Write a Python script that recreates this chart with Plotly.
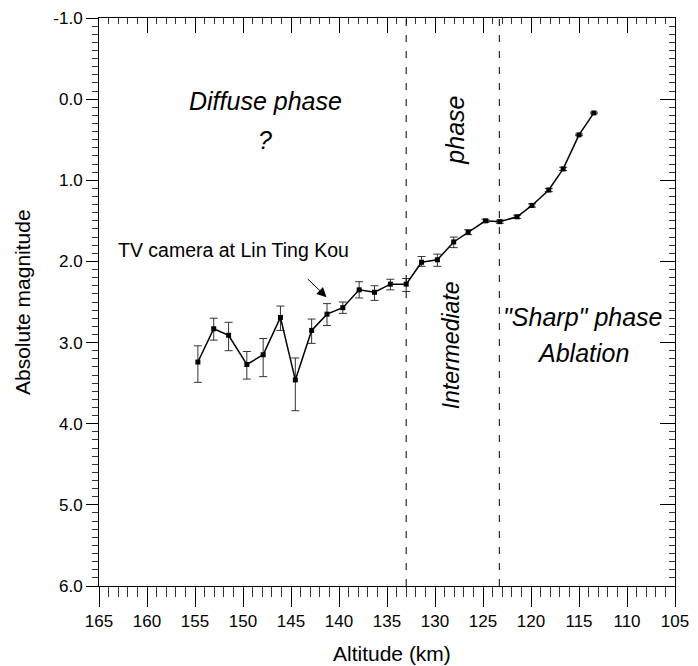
import plotly.graph_objects as go

altitude_km = [154.7, 153.05, 151.5, 149.6, 147.9, 146.1, 144.55, 142.85, 141.25, 139.6,
               137.9, 136.3, 134.65, 133.0, 131.4, 129.75, 128.05, 126.55, 124.75, 123.25,
               121.45, 119.9, 118.15, 116.65, 115.0, 113.45]
abs_magnitude = [3.24, 2.83, 2.91, 3.27, 3.15, 2.69, 3.46, 2.85, 2.65, 2.57,
                 2.35, 2.38, 2.28, 2.28, 2.01, 1.98, 1.76, 1.64, 1.50, 1.51,
                 1.45, 1.31, 1.12, 0.86, 0.44, 0.17]
err_plus = [0.25, 0.14, 0.19, 0.18, 0.27, 0.16, 0.38, 0.16, 0.14, 0.07,
            0.10, 0.10, 0.07, 0.09, 0.05, 0.08, 0.07, 0.03, 0.02, 0.02,
            0.02, 0.02, 0.02, 0.02, 0.01, 0.01]
err_minus = [0.20, 0.13, 0.16, 0.16, 0.20, 0.14, 0.27, 0.14, 0.13, 0.07,
             0.10, 0.08, 0.06, 0.07, 0.07, 0.07, 0.06, 0.03, 0.02, 0.02,
             0.02, 0.02, 0.02, 0.02, 0.01, 0.01]
phase_boundaries_km = [133.0, 123.3]
x_ticks = [165, 160, 155, 150, 145, 140, 135, 130, 125, 120, 115, 110, 105]
y_ticks = [-1.0, 0.0, 1.0, 2.0, 3.0, 4.0, 5.0, 6.0]
y_tick_labels = ["-1.0", "0.0", "1.0", "2.0", "3.0", "4.0", "5.0", "6.0"]
x_title = "Altitude (km)"
y_title = "Absolute magnitude"

FONT = "Liberation Sans, Arial, sans-serif"

fig = go.Figure()
fig.add_trace(go.Scatter(
    x=altitude_km, y=abs_magnitude, mode="lines+markers",
    line=dict(color="black", width=1.5),
    marker=dict(symbol="square", size=5, color="black"),
    error_y=dict(type="data", symmetric=False, array=err_plus, arrayminus=err_minus,
                 color="#333", thickness=1, width=4),
    showlegend=False, hoverinfo="skip", cliponaxis=False))
# invisible trace on mirror axes
fig.add_trace(go.Scatter(x=[165], y=[6], xaxis="x2", yaxis="y2", mode="markers",
                         marker=dict(opacity=0), showlegend=False, hoverinfo="skip"))

for xb in phase_boundaries_km:
    fig.add_shape(type="line", xref="x", yref="paper", x0=xb, x1=xb, y0=0, y1=1,
                  line=dict(color="black", width=1, dash="7px,9px"))

common_x = dict(range=[165, 105], tickvals=x_ticks, showline=True, linecolor="black",
                linewidth=1, showgrid=False, zeroline=False, automargin=False)
common_y = dict(range=[6, -1], tickvals=y_ticks, showline=True, linecolor="black",
                linewidth=1, showgrid=False, zeroline=False, automargin=False)

fig.update_layout(
    width=682, height=658, plot_bgcolor="white", paper_bgcolor="white",
    margin=dict(l=91, r=15, t=10, b=80, autoexpand=False),
    font=dict(family=FONT, color="black"),
    xaxis=dict(**common_x, ticks="outside", ticklen=20, tickwidth=1, tickcolor="black",
               ticktext=[str(v) for v in x_ticks],
               minor=dict(dtick=1, ticks="outside", ticklen=10, tickwidth=1, tickcolor="#333"),
               tickfont=dict(size=17, family=FONT)),
    xaxis2=dict(**common_x, overlaying="x", side="top", ticks="inside", ticklen=15,
                tickwidth=1, tickcolor="black", showticklabels=False,
                minor=dict(dtick=1, ticks="inside", ticklen=6, tickwidth=1, tickcolor="#333")),
    yaxis=dict(**common_y, ticks="outside", ticklen=12, tickwidth=1, tickcolor="black",
               ticktext=y_tick_labels,
               minor=dict(dtick=0.1, ticks="outside", ticklen=6, tickwidth=1, tickcolor="#333"),
               tickfont=dict(size=17, family=FONT)),
    yaxis2=dict(**common_y, overlaying="y", side="right", ticks="inside", ticklen=15,
                tickwidth=1, tickcolor="black", showticklabels=False,
                minor=dict(dtick=0.1, ticks="inside", ticklen=6, tickwidth=1, tickcolor="#333")),
)

# axis titles
fig.add_annotation(xref="paper", yref="paper", x=0.509, y=0, yshift=-67, yanchor="middle",
                   text=x_title, showarrow=False, font=dict(size=21, family=FONT, color="black"))
fig.add_annotation(xref="paper", yref="paper", x=0, y=0.5, xshift=-77, xanchor="center",
                   text=y_title, textangle=-90, showarrow=False,
                   font=dict(size=21, family=FONT, color="black"))

ital = dict(family=FONT, size=25, color="black")
annots = [
    dict(x=147.7, y=0.02, text="<i>Diffuse phase</i>", font=ital),
    dict(x=147.7, y=0.5, text="<i>?</i>", font=ital),
    dict(x=127.95, y=0.38, text="<i>phase</i>", font=ital, textangle=-90),
    dict(x=128.3, y=3.03, text="<i>Intermediate</i>", font=dict(family=FONT, size=23, color="black"), textangle=-90),
    dict(x=114.6, y=2.69, text="<i>\"Sharp\" phase</i>", font=ital),
    dict(x=114.6, y=3.13, text="<i>Ablation</i>", font=ital),
    dict(x=150.95, y=1.86, text="TV camera at Lin Ting Kou", font=dict(family=FONT, size=19.5, color="black")),
]
for a in annots:
    fig.add_annotation(xref="x", yref="y", showarrow=False, **a)

fig.add_annotation(xref="x", yref="y", axref="x", ayref="y", x=141.3, y=2.44,
                   ax=143.4, ay=2.2, text="", showarrow=True, arrowhead=2, arrowsize=1.9,
                   arrowwidth=1, arrowcolor="black")

fig.write_html("out.html")
